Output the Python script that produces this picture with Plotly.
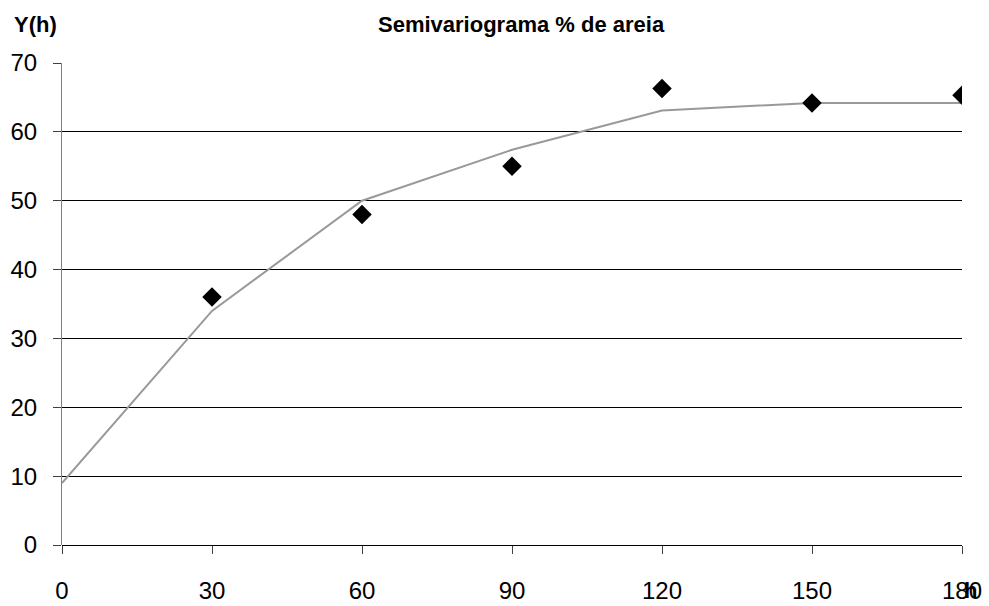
import plotly.graph_objects as go

# Lag distances (h) and experimental semivariance
lags = [30, 60, 90, 120, 150, 180]
semivariance = [36, 48, 55, 66.3, 64.2, 65.3]

# Fitted model curve
model_lags = [0, 30, 60, 90, 120, 150, 180]
model_values = [9, 34, 50, 57.4, 63.1, 64.2, 64.2]

x_ticks = [0, 30, 60, 90, 120, 150, 180]
y_ticks = [0, 10, 20, 30, 40, 50, 60, 70]

font_family = "Liberation Sans, Arial, sans-serif"

fig = go.Figure()

fig.add_trace(go.Scatter(
    x=model_lags, y=model_values, mode="lines",
    line=dict(color="#999999", width=2),
    showlegend=False, hoverinfo="skip",
))

fig.add_trace(go.Scatter(
    x=lags, y=semivariance, mode="markers",
    marker=dict(symbol="diamond", size=15, color="black"),
    showlegend=False,
))

fig.update_layout(
    width=989, height=606,
    margin=dict(l=62, r=27, t=63, b=61),
    paper_bgcolor="white", plot_bgcolor="white",
    font=dict(family=font_family, size=24, color="black"),
    xaxis=dict(
        range=[0, 180], tickvals=x_ticks, ticktext=[str(v) for v in x_ticks],
        showgrid=False, zeroline=False,
        showline=False, automargin=False,
        ticks="outside", ticklen=8, tickcolor="#404040", tickwidth=1,
        ticklabelstandoff=16,
    ),
    yaxis=dict(
        range=[0, 70], tickvals=y_ticks, automargin=False,
        showgrid=True, gridcolor="black", gridwidth=1,
        zeroline=True, zerolinecolor="black", zerolinewidth=1,
        showline=True, linecolor="#808080", linewidth=1,
        ticks="outside", ticklen=8, tickcolor="#404040", tickwidth=1,
        ticklabelstandoff=11,
    ),
    annotations=[
        dict(text="<b>Semivariograma % de areia</b>", xref="paper", yref="paper",
             x=(521 - 62) / 900, y=1, yshift=39, showarrow=False,
             xanchor="center", yanchor="middle",
             font=dict(size=22, family=font_family)),
        dict(text="<b>Y(h)</b>", xref="paper", yref="paper",
             x=0, xshift=-50, y=1, yshift=39, showarrow=False,
             xanchor="left", yanchor="middle",
             font=dict(size=22, family=font_family)),
        dict(text="<b>h</b>", xref="paper", yref="paper",
             x=1, xshift=8, y=0, yshift=-45, showarrow=False,
             xanchor="center", yanchor="middle",
             font=dict(size=22, family=font_family)),
    ],
)

fig.write_html("out.html")
